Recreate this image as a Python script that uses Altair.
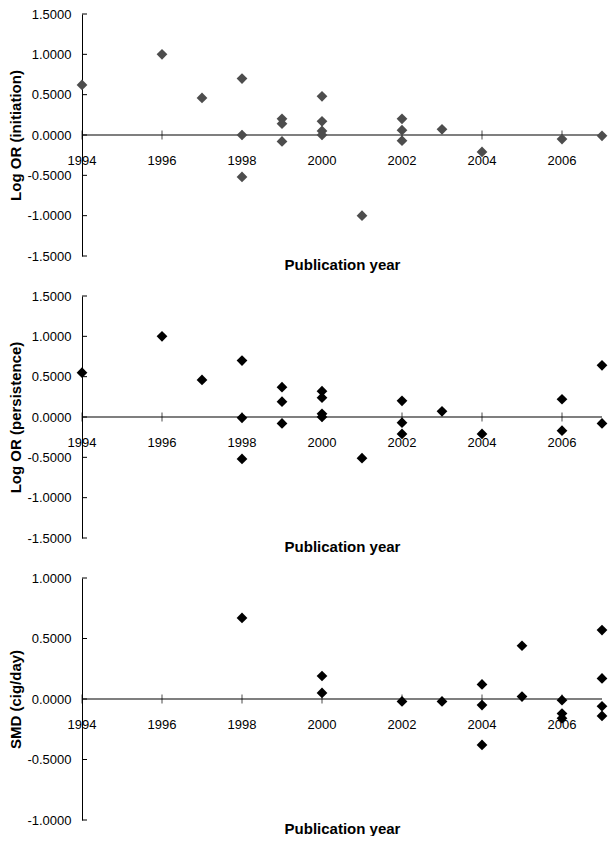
import altair as alt
import pandas as pd

FONT = "Liberation Sans"

tick_years = [1994, 1996, 1998, 2000, 2002, 2004, 2006]

init_year = [1994, 1996, 1997, 1998, 1998, 1998, 1999, 1999, 1999, 2000, 2000, 2000, 2000,
             2001, 2002, 2002, 2002, 2003, 2004, 2006, 2007]
init_val = [0.62, 1.00, 0.46, 0.70, 0.00, -0.52, 0.20, 0.14, -0.08, 0.48, 0.17, 0.05, 0.00,
            -1.00, 0.20, 0.06, -0.07, 0.07, -0.21, -0.05, -0.01]

pers_year = [1994, 1996, 1997, 1998, 1998, 1998, 1999, 1999, 1999, 2000, 2000, 2000, 2000,
             2001, 2002, 2002, 2002, 2003, 2004, 2006, 2006, 2007, 2007]
pers_val = [0.55, 1.00, 0.46, 0.70, -0.01, -0.52, 0.37, 0.19, -0.08, 0.32, 0.24, 0.04, 0.00,
            -0.51, 0.20, -0.07, -0.21, 0.07, -0.21, 0.22, -0.17, 0.64, -0.08]

smd_year = [1998, 2000, 2000, 2002, 2003, 2004, 2004, 2004, 2005, 2005, 2006, 2006, 2006,
            2007, 2007, 2007, 2007]
smd_val = [0.67, 0.19, 0.05, -0.02, -0.02, 0.12, -0.05, -0.38, 0.44, 0.02, -0.01, -0.12, -0.16,
           0.57, 0.17, -0.06, -0.14]

ticks_15 = [-1.5, -1.0, -0.5, 0.0, 0.5, 1.0, 1.5]
ticks_10 = [-1.0, -0.5, 0.0, 0.5, 1.0]

W, H = 520, 242


def panel(years, vals, color, title, ymin, ymax, yticks):
    df = pd.DataFrame({"year": years, "value": vals})
    xs = alt.Scale(domain=[1994, 2007], nice=False, zero=False)
    ys = alt.Scale(domain=[ymin, ymax], nice=False, zero=False)

    xaxis = alt.Axis(title="Publication year", labels=False, ticks=False, domain=False,
                     grid=False, titleFont=FONT, titleFontSize=15, titleFontWeight="bold",
                     titleColor="black", titlePadding=1)
    yaxis = alt.Axis(title=title, values=yticks,
                     labelExpr="(datum.value < 0 ? '-' : '') + format(abs(datum.value), '.4f')",
                     ticks=False, domain=True, domainColor="black", domainWidth=1, grid=False,
                     labelFont=FONT, labelFontSize=13, labelColor="black", labelPadding=11,
                     titleFont=FONT, titleFontSize=15, titleFontWeight="bold",
                     titleColor="black", titlePadding=3)

    zero_df = pd.DataFrame({"year": [1994], "year2": [2007], "value": [0.0]})
    zero = alt.Chart(zero_df).mark_rule(color="black", strokeWidth=1.2).encode(
        x=alt.X("year:Q", scale=xs), x2="year2:Q", y=alt.Y("value:Q", scale=ys))

    tdf = pd.DataFrame({"year": tick_years, "value": [0.0] * len(tick_years),
                        "label": [str(y) for y in tick_years]})
    xticks = alt.Chart(tdf).mark_tick(orient="vertical", size=9, thickness=1, color="black").encode(
        x=alt.X("year:Q", scale=xs), y=alt.Y("value:Q", scale=ys))
    xlabels = alt.Chart(tdf).mark_text(dy=26, font=FONT, fontSize=13, color="black").encode(
        x=alt.X("year:Q", scale=xs), y=alt.Y("value:Q", scale=ys), text="label:N")

    ydf = pd.DataFrame({"value": yticks})
    yt = alt.Chart(ydf).mark_rule(color="black").encode(
        y=alt.Y("value:Q", scale=ys), x=alt.value(0), x2=alt.value(5))

    pts = alt.Chart(df).mark_point(shape="diamond", filled=True, size=115, color=color,
                                   opacity=1).encode(
        x=alt.X("year:Q", scale=xs, axis=xaxis),
        y=alt.Y("value:Q", scale=ys, axis=yaxis))

    return alt.layer(zero, xticks, xlabels, yt, pts).properties(width=W, height=H)


p1 = panel(init_year, init_val, "#4d4d4d", "Log OR (initiation)", -1.5, 1.5, ticks_15)
p2 = panel(pers_year, pers_val, "black", "Log OR (persistence)", -1.5, 1.5, ticks_15)
p3 = panel(smd_year, smd_val, "black", "SMD (cig/day)", -1.0, 1.0, ticks_10)

chart = alt.vconcat(p1, p2, p3, spacing=18).properties(
    padding={"left": 0, "top": 0, "right": 0, "bottom": 0},
    background="white",
).configure_view(stroke=None)

chart.save("out.html", embed_options={"renderer": "svg", "actions": False})
